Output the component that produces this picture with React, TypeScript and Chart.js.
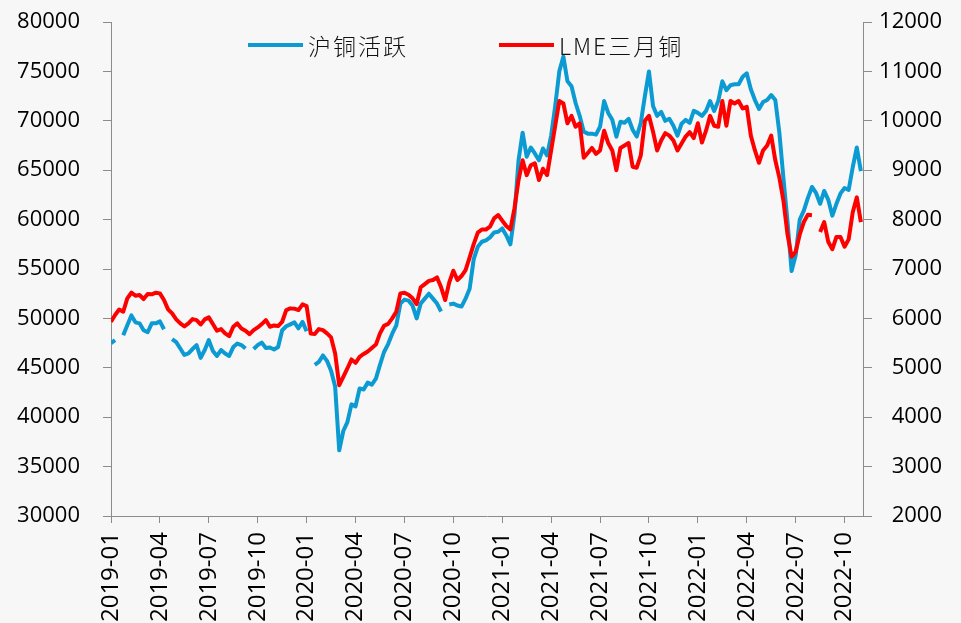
import React, { useEffect, useRef } from "react";
import { Chart, registerables } from "chart.js";

Chart.register(...registerables);

// x axis: months since 2019-01, tick every 3 months
const tickMonths = [0, 3, 6, 9, 12, 15, 18, 21, 24, 27, 30, 33, 36, 39, 42, 45];
const tickLabels = [
  "2019-01", "2019-04", "2019-07", "2019-10",
  "2020-01", "2020-04", "2020-07", "2020-10",
  "2021-01", "2021-04", "2021-07", "2021-10",
  "2022-01", "2022-04", "2022-07", "2022-10",
];
// one observation per quarter month (about weekly)
const stepMonths = 0.25;

// 沪铜活跃 (left axis)
const shfeCopper: (number | null)[] = [
  47500, 47800, null, 48300, 49300, 50300, 49600, 49500, 48800, 48600,
  49500, 49500, 49700, 48900, null, 47900, 47600, 46950, 46300, 46450,
  46900, 47300, 46000, 46800, 47800, 46700, 46200, 46800, 46450, 46200,
  47100, 47450, 47300, 46950, null, 46900, 47300, 47550, 47000, 47050,
  46850, 47100, 48800, 49200, 49400, 49600, 49000, 49650, 48700, null,
  45300, 45600, 46250, 45700, 44700, 43100, 36650, 38600, 39500, 41300,
  41100, 42900, 42800, 43500, 43300, 43900, 45300, 46600, 47400, 48450,
  49300, 51500, 51900, 51800, 51300, 50000, 51500, 52000, 52500, 52000,
  51500, 50700, null, 51400, 51500, 51300, 51200, 52000, 53000, 56000,
  57250, 57760, 57900, 58200, 58700, 58770, 59100, 58400, 57500, 60500,
  66000, 68800, 66360, 67300, 66700, 66000, 67200, 66500, 68500, 71500,
  75000, 76500, 74000, 73500, 71800, 70500, 68900, 68700, 68700, 68600,
  69400, 72000, 70800, 70100, 68400, 69900, 69800, 70200, 69100, 68400,
  69800, 72500, 75000, 71500, 70500, 70900, 70000, 70200, 69500, 68500,
  69700, 70100, 69800, 71000, 70800, 70500, 71000, 72000, 71000, 72000,
  74000, 73100, 73600, 73700, 73700, 74460, 74800, 73200, 72100, 71200,
  71900, 72100, 72600, 72100, 68800, 64170, 59800, 54800, 56400, 60000,
  60900, 62200, 63300, 62700, 61600, 62900, 62000, 60400, 61600, 62650,
  63200, 63000, 65300, 67300, 64900,
];

// LME三月铜 (right axis)
const lmeCopper: (number | null)[] = [
  5930, 6070, 6180, 6135, 6405, 6520, 6460, 6473, 6392, 6493,
  6487, 6520, 6507, 6372, 6183, 6100, 5980, 5899, 5838, 5899,
  5986, 5966, 5878, 5980, 6020, 5885, 5750, 5784, 5696, 5642,
  5831, 5899, 5797, 5750, 5682, 5763, 5817, 5885, 5966, 5831,
  5858, 5845, 5932, 6169, 6203, 6196, 6169, 6284, 6250, 5696,
  5682, 5784, 5763, 5696, 5615, 5290, 4648, 4817, 4986, 5169,
  5101, 5223, 5280, 5330, 5400, 5470, 5697, 5850, 5890, 6000,
  6135, 6507, 6520, 6480, 6406, 6290, 6630, 6695, 6760, 6777,
  6830, 6630, 6372, 6730, 6965, 6777, 6858, 6979, 7235, 7505,
  7735, 7800, 7800, 7856, 8025, 8092, 7980, 7870, 7800, 8227,
  8800, 9200, 8900, 9100, 9140, 8800, 9030, 8900, 9400, 9900,
  10400, 10350, 9950, 10100, 9880, 9950, 9250, 9350, 9450, 9330,
  9400, 9800, 9550, 9400, 9000, 9450, 9500, 9550, 9070, 9050,
  9300, 10000, 10100, 9780, 9400, 9600, 9750, 9700, 9600, 9400,
  9540, 9680, 9770, 9650, 9950, 9560, 9800, 10100, 9900, 9880,
  10400, 9900, 10400, 10350, 10400, 10250, 10285, 9700, 9400, 9150,
  9400, 9500, 9700, 9200, 8850, 8380, 7700, 7250, 7350, 7700,
  7950, 8100, 8090, null, 7750, 7950, 7550, 7400, 7650, 7650,
  7450, 7600, 8150, 8450, 7950,
];

const seriesNames = ["沪铜活跃", "LME三月铜"];
const BLUE = "#0b9bd2";
const RED = "#ff0000";
const AXIS = "#8c8c8c";

const toPoints = (arr: (number | null)[]) =>
  arr.map((v, i) => ({ x: i * stepMonths, y: v }));

const legendPlugin = {
  id: "insideLegend",
  afterDraw(chart: any) {
    const { ctx, chartArea } = chart;
    const items = [
      { name: seriesNames[0], color: BLUE, dx: 137 },
      { name: seriesNames[1], color: RED, dx: 388 },
    ];
    const y = chartArea.top + 23;
    ctx.save();
    items.forEach((it) => {
      const x0 = chartArea.left + it.dx;
      ctx.strokeStyle = it.color;
      ctx.lineWidth = 4;
      ctx.lineCap = "butt";
      ctx.beginPath();
      ctx.moveTo(x0, y);
      ctx.lineTo(x0 + 55, y);
      ctx.stroke();
      ctx.fillStyle = "#111";
      ctx.font = '300 23px "Noto Sans CJK SC"';
      (ctx as any).letterSpacing = "2px";
      ctx.textBaseline = "middle";
      ctx.textAlign = "left";
      ctx.fillText(it.name, x0 + 60, y + 1);
    });
    ctx.restore();
  },
};

export default function App() {
  const ref = useRef<HTMLCanvasElement | null>(null);

  useEffect(() => {
    if (!ref.current) return;
    const tickFont = { family: '"Open Sans", sans-serif', size: 22 };
    const chart = new Chart(ref.current, {
      type: "line",
      data: {
        datasets: [
          {
            label: seriesNames[0],
            data: toPoints(shfeCopper),
            yAxisID: "y",
            borderColor: BLUE,
            backgroundColor: BLUE,
            borderWidth: 4,
            borderJoinStyle: "round",
            pointRadius: 0,
            tension: 0,
            spanGaps: false,
            order: 2,
          },
          {
            label: seriesNames[1],
            data: toPoints(lmeCopper),
            yAxisID: "y1",
            borderColor: RED,
            backgroundColor: RED,
            borderWidth: 4,
            borderJoinStyle: "round",
            pointRadius: 0,
            tension: 0,
            spanGaps: false,
            order: 1,
          },
        ],
      },
      options: {
        responsive: false,
        animation: false,
        devicePixelRatio: 1,
        parsing: true,
        layout: { padding: { top: 22, right: 19, left: 0, bottom: 0 } },
        plugins: {
          legend: { display: false },
          tooltip: { enabled: false },
        },
        scales: {
          x: {
            type: "linear",
            min: 0,
            max: 46.13,
            afterBuildTicks: (scale: any) => {
              scale.ticks = tickMonths.map((v) => ({ value: v }));
            },
            afterFit: (scale: any) => {
              scale.height = 107;
              scale.paddingLeft = 0;
              scale.paddingRight = 0;
            },
            ticks: {
              autoSkip: false,
              minRotation: 90,
              maxRotation: 90,
              padding: 9,
              color: "#000",
              font: { ...tickFont, size: 24 },
              callback: (v: any) => {
                const k = tickMonths.indexOf(Number(v));
                return k >= 0 ? tickLabels[k] : "";
              },
            },
            grid: { drawOnChartArea: false, drawTicks: true, tickLength: 7, color: AXIS },
            border: { display: true, color: AXIS },
          },
          y: {
            type: "linear",
            position: "left",
            min: 30000,
            max: 80000,
            afterFit: (scale: any) => {
              scale.width = 111;
              scale.paddingTop = 0;
              scale.paddingBottom = 0;
            },
            ticks: {
              stepSize: 5000,
              padding: 23,
              color: "#000",
              font: tickFont,
              callback: (v: any) => String(v),
            },
            grid: { drawOnChartArea: false, drawTicks: true, tickLength: 8, color: AXIS },
            border: { display: true, color: AXIS },
          },
          y1: {
            type: "linear",
            position: "right",
            min: 2000,
            max: 12000,
            afterFit: (scale: any) => {
              scale.width = 79;
              scale.paddingTop = 0;
              scale.paddingBottom = 0;
            },
            ticks: {
              stepSize: 1000,
              padding: 5,
              crossAlign: "far",
              color: "#000",
              font: tickFont,
              callback: (v: any) => String(v),
            },
            grid: { drawOnChartArea: false, drawTicks: true, tickLength: 9, color: AXIS },
            border: { display: true, color: AXIS },
          },
        },
      } as any,
      plugins: [legendPlugin],
    });
    return () => chart.destroy();
  }, []);

  return (
    <canvas
      ref={ref}
      width={961}
      height={623}
      style={{
        position: "fixed",
        left: 0,
        top: 0,
        width: 961,
        height: 623,
        background: "#f7f7f7",
        display: "block",
      }}
    />
  );
}
